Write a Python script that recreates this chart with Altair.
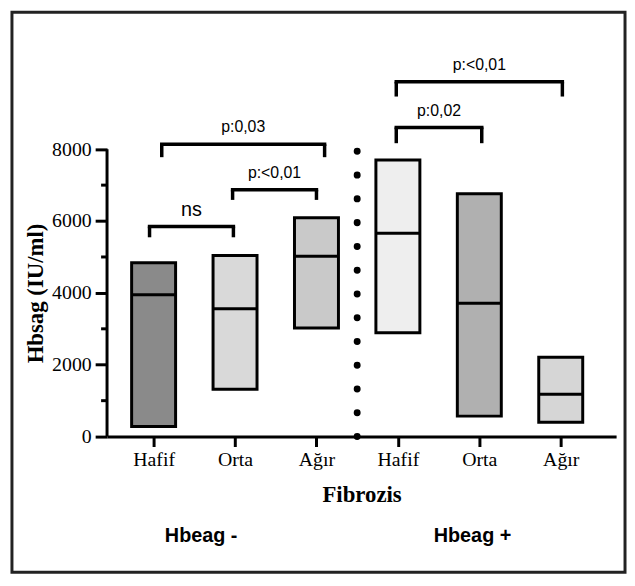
import altair as alt
import pandas as pd

# ---- data ----
categories = ["Hafif", "Orta", "Ağır", "Hafif", "Orta", "Ağır"]
positions = [1, 2, 3, 4, 5, 6]
low = [280, 1320, 3020, 2890, 570, 400]
high = [4840, 5040, 6090, 7700, 6760, 2210]
median = [3950, 3560, 5020, 5660, 3710, 1180]
fills = ["#8a8a8a", "#d9d9d9", "#c9c9c9", "#eeeeee", "#b0b0b0", "#d6d6d6"]

# significance brackets
br_from = [0.95, 1.97, 1.10, 3.98, 3.98]
br_to = [1.98, 3.00, 3.10, 5.03, 6.02]
br_level = [5848, 6869, 8138, 8607, 9876]
br_drop = [300, 280, 360, 440, 410]
br_label = ["ns", "p:<0,01", "p:0,03", "p:0,02", "p:<0,01"]
br_size = [20, 16, 16, 16, 16]

minor_ticks = [1000, 3000, 5000, 7000]
major_ticks = [0, 2000, 4000, 6000, 8000]
group_labels = ["Hbeag -", "Hbeag +"]

boxes = pd.DataFrame({"cat": categories, "pos": positions, "low": low,
                      "high": high, "median": median, "fill": fills})
boxes["x1"] = boxes["pos"] - 0.27
boxes["x2"] = boxes["pos"] + 0.27

br = pd.DataFrame({"f": br_from, "t": br_to, "lvl": br_level,
                   "drop": br_drop, "label": br_label, "size": br_size})
br["bottom"] = br["lvl"] - br["drop"]
br["mid"] = (br["f"] + br["t"]) / 2

serif = "Liberation Serif"
sans = "Liberation Sans"

xscale = alt.Scale(domain=[0.428, 6.68], nice=False, zero=False)
yscale = alt.Scale(domain=[0, 11000], nice=False)

label_expr = "['','Hafif','Orta','Ağır','Hafif','Orta','Ağır'][datum.value]"

xaxis = alt.Axis(values=positions, labelExpr=label_expr, title="Fibrozis")
yaxis = alt.Axis(values=major_ticks, format="d", title="Hbsag (IU/ml)",
                 domain=False, titleY=254)

base_boxes = alt.Chart(boxes)

rects = base_boxes.mark_rect(stroke="black", strokeWidth=3).encode(
    x=alt.X("x1:Q", scale=xscale, axis=xaxis),
    x2="x2:Q",
    y=alt.Y("low:Q", scale=yscale, axis=yaxis),
    y2="high:Q",
    fill=alt.Fill("fill:N", scale=None),
)

medians = base_boxes.mark_rule(color="black", strokeWidth=3).encode(
    x="x1:Q", x2="x2:Q", y="median:Q"
)

dotted = alt.Chart(pd.DataFrame({"x": [3.5], "y0": [0], "y1": [8000]})).mark_rule(
    color="black", strokeWidth=7, strokeCap="round", strokeDash=[0.1, 23.9]
).encode(x="x:Q", y="y0:Q", y2="y1:Q")

yline = alt.Chart(pd.DataFrame({"y0": [0], "y1": [8000]})).mark_rule(
    color="black", strokeWidth=3
).encode(x=alt.value(0), y="y0:Q", y2="y1:Q")

minor = alt.Chart(pd.DataFrame({"v": minor_ticks})).mark_rule(
    color="black", strokeWidth=3
).encode(x=alt.value(-6), x2=alt.value(0), y="v:Q")

br_base = alt.Chart(br)
br_h = br_base.mark_rule(color="black", strokeWidth=3.5, strokeCap="square").encode(
    x="f:Q", x2="t:Q", y="lvl:Q")
br_l = br_base.mark_rule(color="black", strokeWidth=3.5).encode(
    x="f:Q", y="lvl:Q", y2="bottom:Q")
br_r = br_base.mark_rule(color="black", strokeWidth=3.5).encode(
    x="t:Q", y="lvl:Q", y2="bottom:Q")
br_t = br_base.mark_text(font=sans, dy=-17, baseline="middle", color="black").encode(
    x="mid:Q", y="lvl:Q", text="label:N",
    size=alt.Size("size:Q", scale=None, legend=None))

frame = alt.Chart(pd.DataFrame({"a": [0]})).mark_rect(
    fill=None, stroke="#222222", strokeWidth=3
).encode(x=alt.value(-96), x2=alt.value(523), y=alt.value(-29.5), y2=alt.value(536))

g_minus = alt.Chart(pd.DataFrame({"g": group_labels[:1]})).mark_text(
    font=sans, fontSize=20, fontWeight="bold", color="black", baseline="middle"
).encode(x=alt.value(95), y=alt.value(499), text="g:N")
g_plus = alt.Chart(pd.DataFrame({"g": group_labels[1:]})).mark_text(
    font=sans, fontSize=20, fontWeight="bold", color="black", baseline="middle"
).encode(x=alt.value(369), y=alt.value(499), text="g:N")

chart = alt.layer(
    rects, frame, medians, dotted, yline, minor, br_h, br_l, br_r, br_t, g_minus, g_plus
).properties(
    width=514, height=399,
    autosize=alt.AutoSizeParams(type="none"),
    padding={"left": 100, "top": 31, "right": 11, "bottom": 138},
    background="white",
).configure_view(stroke=None).configure_axis(
    grid=False, tickColor="black", labelColor="black", titleColor="black",
    labelFont=serif, labelFontSize=20, titleFont=serif, titleFontWeight="bold",
    domainColor="black",
).configure_axisX(
    tickSize=10, tickWidth=3, domainWidth=3, labelPadding=3,
    titleFontSize=23, titlePadding=15,
).configure_axisY(
    tickSize=12, tickWidth=3, labelPadding=4, titleFontSize=23, titlePadding=4,
)

chart.save("out.html", embed_options={"renderer": "svg", "actions": False})
